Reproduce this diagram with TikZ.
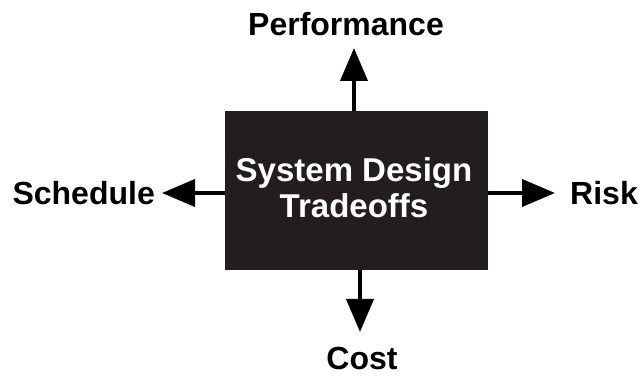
\documentclass[tikz,border=0pt]{standalone}
\usepackage{fontspec}
\setmainfont{Liberation Sans}
\usetikzlibrary{arrows.meta}
\definecolor{boxfill}{HTML}{221E1F}
\begin{document}
\begin{tikzpicture}[x=1pt,y=1pt,
  lbl/.style={font=\fontsize{32}{36}\selectfont\bfseries, inner sep=0pt, anchor=base},
  inner/.style={font=\fontsize{33}{36}\selectfont\bfseries, text=white, inner sep=0pt, anchor=base},
  arr/.style={line width=4pt, -{Triangle[length=33pt,width=27pt]}, shorten >=0pt}]
\useasboundingbox (0,0) rectangle (642,377);
\node[fill=boxfill, draw=none, minimum width=263pt, minimum height=159pt, inner sep=0pt, anchor=south west] (box) at (225,107) {};
\node[inner] (l1) at (354,195) {System Design};
\node[inner] (l2) at (354,159) {Tradeoffs};
\node[lbl] (perf) at (346,341) {Performance};
\node[lbl, anchor=base east] (sched) at (155,172) {Schedule};
\node[lbl, anchor=base west] (risk) at (570,172) {Risk};
\node[lbl] (cost) at (362,7) {Cost};
\coordinate (ttip) at (354,329);
\coordinate (ltip) at (162,184);
\coordinate (rtip) at (555,184);
\coordinate (btip) at (360,45);
\draw[arr] (box.north -| ttip) -- (ttip);
\draw[arr] (box.west |- ltip) -- (ltip);
\draw[arr] (box.east |- rtip) -- (rtip);
\draw[arr] (box.south -| btip) -- (btip);
\end{tikzpicture}
\end{document}
